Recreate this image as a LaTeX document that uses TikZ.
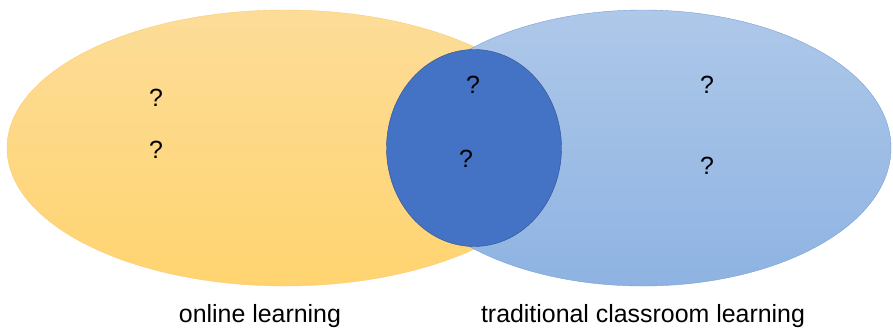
\documentclass[tikz,border=0pt]{standalone}
\usepackage{fontspec}
\setmainfont{Liberation Sans}
\usetikzlibrary{shapes.geometric}
\definecolor{onlinegold}{RGB}{253,216,138}
\definecolor{onlinegoldtop}{RGB}{252,220,152}
\definecolor{onlinegoldbot}{RGB}{255,212,112}
\definecolor{classbluetop}{RGB}{174,200,233}
\definecolor{classbluebot}{RGB}{142,179,226}
\definecolor{classblueline}{RGB}{120,160,214}
\definecolor{corefill}{RGB}{68,114,196}
\definecolor{coreline}{RGB}{47,82,143}
\begin{document}
\begin{tikzpicture}[x=1bp, y=-1bp,
    online/.style ={ellipse, draw=onlinegold!85!orange, thin, top color=onlinegoldtop, bottom color=onlinegoldbot, inner sep=0pt, minimum width=556bp, minimum height=276bp},
    classroom/.style ={ellipse, draw=classblueline, thin, top color=classbluetop, bottom color=classbluebot, inner sep=0pt, minimum width=496bp, minimum height=276bp},
    overlap/.style ={ellipse, draw=coreline, thin, fill=corefill, inner sep=0pt, minimum width=175bp, minimum height=197bp},
    qmark/.style ={font=\fontsize{25}{30}\selectfont, anchor=base, inner sep=0pt},
    setlabel/.style ={font=\fontsize{25}{30}\selectfont, anchor=base, inner sep=0pt}]
   \useasboundingbox (0,0) rectangle (893,329);
   \node[online]    (O) at (285,148) {};
   \node[classroom] (T) at (643,148) {};
   \node[overlap]   (C) at (474,148) {};
   % question marks
   \node[qmark] (o1) at (156,106) {?};
   \node[qmark] (o2) at (156,158) {?};
   \node[qmark] (c1) at (473,93)  {?};
   \node[qmark] (c2) at (466,167) {?};
   \node[qmark] (t1) at (707,93)  {?};
   \node[qmark] (t2) at (707,174) {?};
   % set names
   \node[setlabel] (lo) at (260,322) {online learning};
   \node[setlabel] (lt) at (643,322) {traditional classroom learning};
\end{tikzpicture}
\end{document}
